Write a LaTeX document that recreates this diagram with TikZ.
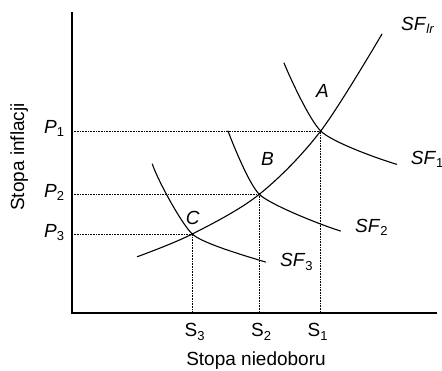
\documentclass[tikz,border=0pt]{standalone}
\usepackage{fontspec}
\setmainfont{Liberation Sans}
\newcommand\lsub[1]{\raisebox{-3.4pt}{\fontsize{13}{14}\selectfont #1}}
\begin{document}
\begin{tikzpicture}[x=1pt,y=-1pt,
  axis/.style={line width=1.4pt},
  curve/.style={line width=1.1pt, line join=round, line cap=round},
  guide/.style={line width=0.6pt, dash pattern=on 0.8pt off 0.8pt},
  lbl/.style={inner sep=0pt, anchor=base west, font=\fontsize{19}{22}\selectfont},
  ttl/.style={inner sep=0pt, anchor=base, font=\fontsize{19}{22}\selectfont},
  dot/.style={fill=black, circle, inner sep=0pt, minimum size=2.4pt}]
\useasboundingbox (0,0) rectangle (442,370);
% axes
\coordinate (O) at (72,313);
\coordinate (Ytop) at (72,12);
\coordinate (Xend) at (437,313);
\draw[axis] (Ytop) -- (O) -- (Xend);
% intersections
\coordinate (A) at (320.7,131);
\coordinate (B) at (259.3,194.3);
\coordinate (C) at (192.3,234);
% guides
\draw[guide] (O |- A) -- (A) -- (A |- O);
\draw[guide] (O |- B) -- (B) -- (B |- O);
\draw[guide] (O |- C) -- (C) -- (C |- O);
% long-run curve
\draw[curve] plot[smooth, tension=0.55] coordinates {(137.3,256.7) (C) (B) (A) (382,34)};
% short-run curves
\draw[curve] (284,63) .. controls (291,80) and (309.7,120) .. (A)
  .. controls (331.7,142) and (376.7,158.3) .. (396.7,164.3);
\draw[curve] (228,131) .. controls (234,147) and (249.3,184.3) .. (B)
  .. controls (269.3,204.3) and (319.5,224.5) .. (340.5,231);
\draw[curve] (152.3,164) .. controls (158,181) and (182.3,225) .. (C)
  .. controls (201.3,243) and (245.5,256) .. (265.5,262);
\node[dot] (dA) at (A) {};
\node[dot] (dB) at (B) {};
\node[dot] (dC) at (C) {};
% labels
\node[lbl] (lSFlr) at (401,30.5) {\textit{SF}\lsub{\textit{lr}}};
\node[lbl] (lA) at (316,97.5) {\textit{A}};
\node[lbl] (lB) at (261,165) {\textit{B}};
\node[lbl] (lC) at (185.7,224) {\textit{C}};
\node[lbl] (lSF1) at (410.7,164) {\textit{SF}\lsub{1}};
\node[lbl] (lSF2) at (355,232.5) {\textit{SF}\lsub{2}};
\node[lbl] (lSF3) at (280,266.7) {\textit{SF}\lsub{3}};
\node[lbl] (lP1) at (44,133.3) {\textit{P}\lsub{1}};
\node[lbl] (lP2) at (44,197.5) {\textit{P}\lsub{2}};
\node[lbl] (lP3) at (44,237.5) {\textit{P}\lsub{3}};
\node[lbl] (lS3) at (184.5,336.7) {S\lsub{3}};
\node[lbl] (lS2) at (251,336.7) {S\lsub{2}};
\node[lbl] (lS1) at (307.5,336.7) {S\lsub{1}};
\node[ttl] (xt) at (256,365) {Stopa niedoboru};
\node[ttl, rotate=90] (yt) at (24,157) {Stopa inflacji};
\end{tikzpicture}
\end{document}
